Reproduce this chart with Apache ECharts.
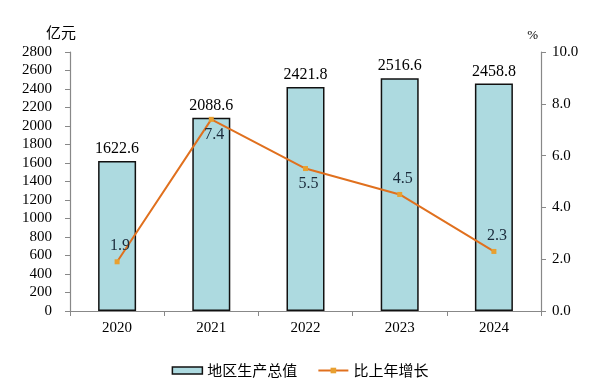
<!DOCTYPE html>
<html><head><meta charset="utf-8">
<script src="https://cdn.jsdelivr.net/npm/echarts@6/dist/echarts.min.js"></script>
<style>html,body{margin:0;padding:0;background:#fff}#c{width:600px;height:392px}</style>
</head><body><div id="c"></div>
<script>
var categories = ['2020', '2021', '2022', '2023', '2024'];
var gdpValues = [1622.6, 2088.6, 2421.8, 2516.6, 2458.8];
var growthValues = [1.9, 7.4, 5.5, 4.5, 2.3];
var growthLabelPlacement = ['top', 'bottom', 'bottom', 'top', 'top'];
var leftTicks = { min: 0, max: 2800, interval: 200 };
var rightTicks = { min: 0, max: 10, interval: 2 };

var numFont = 'Liberation Serif';
var chart = echarts.init(document.getElementById('c'));
chart.setOption({
  animation: false,
  grid: { left: 70, right: 59, top: 52, bottom: 81 },
  legend: {
    bottom: 9, left: 'center', itemGap: 20,
    textStyle: { fontFamily: 'Noto Sans CJK SC', fontSize: 15, color: '#000' },
    data: [
      { name: '地区生产总值', icon: 'rect', itemStyle: { color: '#ADDAE0', borderColor: '#111', borderWidth: 1.5 } },
      { name: '比上年增长' }
    ],
    itemWidth: 30, itemHeight: 7
  },
  xAxis: {
    type: 'category', data: categories, boundaryGap: true,
    axisLine: { lineStyle: { color: '#888', width: 1.2 } },
    axisTick: { show: true, length: 5, lineStyle: { color: '#888' } },
    axisLabel: { fontFamily: numFont, fontSize: 15, color: '#000', margin: 10 }
  },
  yAxis: [
    {
      type: 'value', min: leftTicks.min, max: leftTicks.max, interval: leftTicks.interval,
      name: '亿元', nameLocation: 'end', nameGap: 12,
      nameTextStyle: { fontFamily: 'Noto Sans CJK SC', fontSize: 15, color: '#000', align: 'right', padding: [0, -6, 0, 0] },
      axisLine: { show: true, lineStyle: { color: '#888', width: 1.2 } },
      axisTick: { show: true, length: 5, lineStyle: { color: '#888' } },
      splitLine: { show: false },
      axisLabel: { fontFamily: numFont, fontSize: 15, color: '#000', margin: 18,
        formatter: function (v) { return String(v); } }
    },
    {
      type: 'value', min: rightTicks.min, max: rightTicks.max, interval: rightTicks.interval,
      name: '%', nameLocation: 'end', nameGap: 10,
      nameTextStyle: { fontFamily: numFont, fontSize: 13, color: '#000', align: 'right', padding: [0, 3, 0, 0] },
      axisLine: { show: true, lineStyle: { color: '#888', width: 1.2 } },
      axisTick: { show: true, length: 5, lineStyle: { color: '#888' } },
      splitLine: { show: false },
      axisLabel: { fontFamily: numFont, fontSize: 15, color: '#000', margin: 11,
        formatter: function (v) { return v.toFixed(1); } }
    }
  ],
  series: [
    {
      name: '地区生产总值', type: 'bar', yAxisIndex: 0, barWidth: 38,
      data: gdpValues,
      itemStyle: { color: '#ADDAE0', borderColor: '#111', borderWidth: 1.5 },
      label: { show: true, position: 'top', distance: 4, fontFamily: numFont, fontSize: 16, color: '#000',
        formatter: function (p) { return p.value.toFixed(1); } }
    },
    {
      name: '比上年增长', type: 'line', yAxisIndex: 1,
      data: growthValues.map(function (v, i) {
        return { value: v, label: { position: growthLabelPlacement[i] } };
      }),
      lineStyle: { color: '#E0701E', width: 2 },
      itemStyle: { color: '#E8A030' },
      symbol: 'rect', symbolSize: 5,
      label: { show: true, distance: 5, offset: [3, 0], fontFamily: numFont, fontSize: 16, color: '#1a2a3a',
        formatter: function (p) { return p.value.toFixed(1); } }
    }
  ]
});
</script></body></html>
